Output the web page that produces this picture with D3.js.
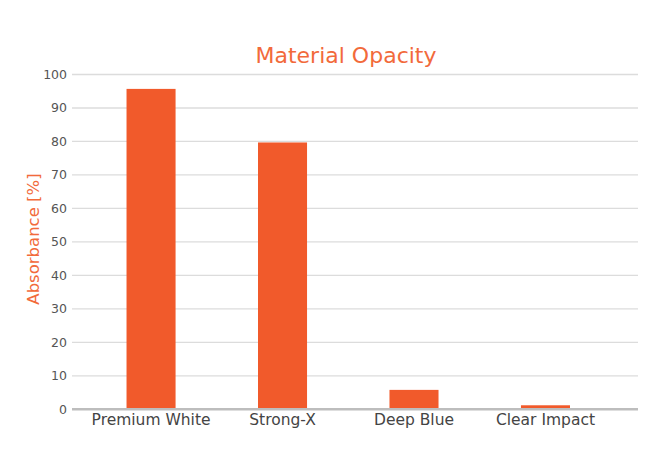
<!DOCTYPE html>
<html><head><meta charset="utf-8">
<script src="https://cdn.jsdelivr.net/npm/d3@7"></script>
<style>body{margin:0;background:#fff;}svg{display:block;}</style>
</head><body>
<svg id="c" width="651" height="449"></svg>
<script>
const categories = ["Premium White", "Strong-X", "Deep Blue", "Clear Impact"];
const values = [95.7, 79.7, 5.8, 1.2];
const yTicks = [0, 10, 20, 30, 40, 50, 60, 70, 80, 90, 100];
const title = "Material Opacity";
const yLabel = "Absorbance [%]";

(function () {
const svg = d3.select("#c");
const mL = 72, mR = 638, mT = 74.5, mB = 409.3;
const orange = "#f15a2b";

const x = d3.scaleBand().domain(categories).range([mL, mR])
  .paddingInner(0.627).paddingOuter(0.466).align(0.445);
const y = d3.scaleLinear().domain([0, 100]).range([mB, mT]);

// gridlines
svg.append("g").selectAll("line").data(yTicks.filter(d => d > 0)).join("line")
  .attr("x1", mL).attr("x2", mR)
  .attr("y1", d => y(d)).attr("y2", d => y(d))
  .attr("stroke", "#dcdcdc").attr("stroke-width", 1.3);

// y axis tick labels
const ya = svg.append("g").attr("transform", `translate(${mL},0)`)
  .call(d3.axisLeft(y).tickValues(yTicks).tickSize(0).tickPadding(5));
ya.select(".domain").remove();
ya.selectAll("text").attr("font-family", "DejaVu Sans, sans-serif")
  .attr("font-size", 12.5).attr("fill", "#555");

// bars
svg.append("g").selectAll("rect").data(values).join("rect")
  .attr("x", (d, i) => x(categories[i]))
  .attr("width", x.bandwidth())
  .attr("y", d => y(d))
  .attr("height", d => y(0) - y(d))
  .attr("fill", orange);

// x axis
const xa = svg.append("g").attr("transform", `translate(0,${mB})`)
  .call(d3.axisBottom(x).tickSize(0).tickPadding(5));
xa.select(".domain").attr("stroke", "#bdbdbd").attr("stroke-width", 2.5)
  .attr("d", `M${mL},0H${mR}`);
xa.selectAll("text").attr("font-family", "DejaVu Sans, sans-serif")
  .attr("font-size", 15.5).attr("fill", "#444");

// title
svg.append("text").attr("x", 346).attr("y", 63).attr("text-anchor", "middle")
  .attr("font-family", "DejaVu Sans, sans-serif").attr("font-size", 22)
  .attr("fill", "#f26a3b").text(title);

// y label
svg.append("text").attr("transform", `translate(39,239) rotate(-90)`)
  .attr("text-anchor", "middle")
  .attr("font-family", "DejaVu Sans, sans-serif").attr("font-size", 16.5)
  .attr("fill", "#f26a3b").text(yLabel);
})();
</script>
</body></html>
